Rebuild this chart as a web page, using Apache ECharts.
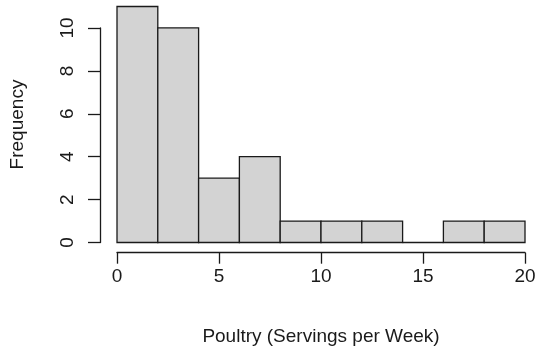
<!DOCTYPE html>
<html><head><meta charset="utf-8">
<script src="https://cdn.jsdelivr.net/npm/echarts@6/dist/echarts.min.js"></script>
<style>html,body{margin:0;padding:0;background:#fff}#c{width:537px;height:352px}</style>
</head><body><div id="c"></div>
<script>
const binEdges = [0, 2, 4, 6, 8, 10, 12, 14, 16, 18, 20];
const counts = [11, 10, 3, 4, 1, 1, 1, 0, 1, 1];
const xTicks = [0, 5, 10, 15, 20];
const yTicks = [0, 2, 4, 6, 8, 10];
const xTitle = 'Poultry (Servings per Week)';
const yTitle = 'Frequency';

const FONT = 'Liberation Sans, Arial, sans-serif';
const FS = 19;
const TXT = '#1a1a1a';

const histData = counts.map((c, i) => [binEdges[i], binEdges[i + 1], c]);

const chart = echarts.init(document.getElementById('c'), null, {renderer: 'canvas'});
chart.setOption({
  animation: false,
  backgroundColor: '#fff',
  grid: [
    {left: 117, right: 12, top: 6.5, bottom: 109.5, containLabel: false, outerBoundsMode: 'none'},
    {left: 100, width: 5, top: 28, bottom: 109.5, containLabel: false, outerBoundsMode: 'none'},
    {left: 117, right: 12, top: 242.7, bottom: 99.3, containLabel: false, outerBoundsMode: 'none'}
  ],
  xAxis: [
    {gridIndex: 0, type: 'value', min: 0, max: 20, show: false},
    {gridIndex: 1, type: 'value', min: 0, max: 1, show: false},
    {gridIndex: 2, type: 'value', min: 0, max: 20, interval: 5,
     axisLine: {show: true, lineStyle: {color: TXT, width: 1.3}},
     axisTick: {show: true, length: 11, lineStyle: {color: TXT, width: 1.3}},
     axisLabel: {show: true, margin: 15, fontSize: FS, fontFamily: FONT, color: TXT,
       formatter: v => xTicks.includes(v) ? String(v) : ''},
     splitLine: {show: false},
     name: xTitle, nameLocation: 'middle', nameGap: 75,
     nameTextStyle: {fontSize: FS, fontFamily: FONT, color: TXT}}
  ],
  yAxis: [
    {gridIndex: 0, type: 'value', min: 0, max: 11, position: 'left', offset: 0,
     axisLine: {show: false}, axisTick: {show: false}, axisLabel: {show: false},
     splitLine: {show: false},
     name: yTitle, nameLocation: 'middle', nameGap: 90, nameRotate: 90,
     nameTextStyle: {fontSize: FS, fontFamily: FONT, color: TXT}},
    {gridIndex: 1, type: 'value', min: 0, max: 10, interval: 2, position: 'left',
     axisLine: {show: true, lineStyle: {color: TXT, width: 1.3}},
     axisTick: {show: true, length: 12, lineStyle: {color: TXT, width: 1.3}},
     axisLabel: {show: true, rotate: 90, margin: 23, fontSize: FS, fontFamily: FONT, color: TXT,
       formatter: v => yTicks.includes(v) ? String(v) : ''},
     splitLine: {show: false}},
    {gridIndex: 2, type: 'value', min: 0, max: 1, show: false}
  ],
  series: [{
    type: 'custom',
    xAxisIndex: 0, yAxisIndex: 0,
    data: histData,
    renderItem: function (params, api) {
      const p0 = api.coord([api.value(0), 0]);
      const p1 = api.coord([api.value(1), api.value(2)]);
      return {
        type: 'rect',
        shape: {x: p0[0], y: p1[1], width: p1[0] - p0[0], height: p0[1] - p1[1]},
        style: {fill: '#d3d3d3', stroke: '#1a1a1a', lineWidth: 1.3}
      };
    }
  }]
});
</script></body></html>
